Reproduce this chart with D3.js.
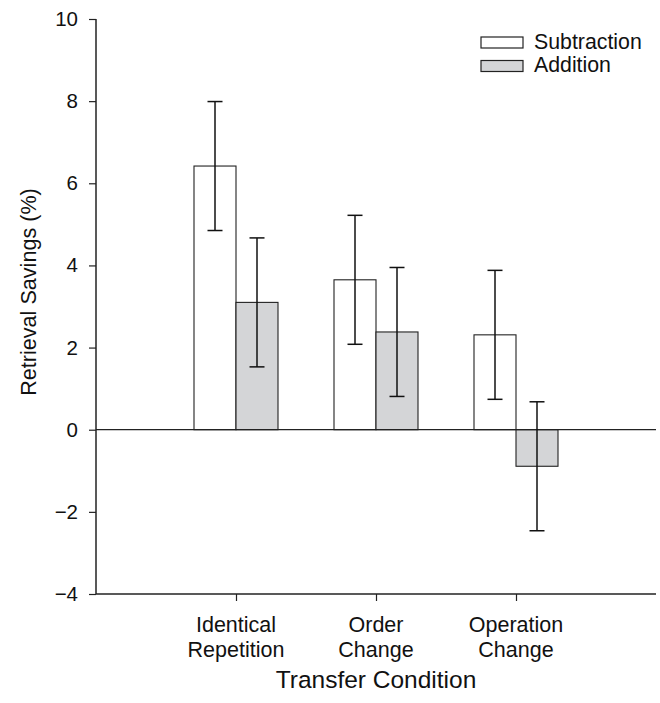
<!DOCTYPE html>
<html>
<head>
<meta charset="utf-8">
<script src="https://cdn.jsdelivr.net/npm/d3@7"></script>
<style>
  body { margin: 0; background: #fff; }
  text { font-family: "Liberation Sans", Arial, Helvetica, sans-serif; fill: #111; }
</style>
</head>
<body>
<div id="chart"></div>
<script>
// Chart data
const conditions = ["Identical Repetition", "Order Change", "Operation Change"];
const conditionLines = [["Identical", "Repetition"], ["Order", "Change"], ["Operation", "Change"]];
const seriesNames = ["Subtraction", "Addition"];
const subtractionMeans = [6.42, 3.65, 2.31];
const subtractionErrors = [1.57, 1.57, 1.57];
const additionMeans = [3.10, 2.38, -0.89];
const additionErrors = [1.57, 1.57, 1.57];
const yTicks = [-4, -2, 0, 2, 4, 6, 8, 10];

const colors = { Subtraction: "#ffffff", Addition: "#d4d5d7" };

function init() {
    const width = 660;
    const height = 703;
    const margin = { left: 96, right: 1, top: 19, bottom: 109 };

    const svg = d3.select("#chart").append("svg")
                  .attr("width", width)
                  .attr("height", height);

    // x runs from 0 to 4, conditions sit at 1, 2, 3
    const x = d3.scaleLinear()
                .domain([0, 4])
                .range([margin.left, width - margin.right - 3]);

    const y = d3.scaleLinear()
                .domain([-4, 10])
                .range([height - margin.bottom, margin.top]);

    const barWidth = x(0.3) - x(0);

    // Build rows from the arrays
    const rows = [];
    conditions.forEach((c, i) => {
        rows.push({ cond: i, series: "Subtraction", value: subtractionMeans[i], err: subtractionErrors[i], offset: -1 });
        rows.push({ cond: i, series: "Addition", value: additionMeans[i], err: additionErrors[i], offset: 0 });
    });

    // Bars
    svg.selectAll("rect.bar")
       .data(rows)
       .enter()
       .append("rect")
       .attr("class", "bar")
       .attr("x", d => x(d.cond + 1) + d.offset * barWidth)
       .attr("y", d => y(Math.max(0, d.value)))
       .attr("width", barWidth)
       .attr("height", d => Math.abs(y(d.value) - y(0)))
       .attr("fill", d => colors[d.series])
       .attr("stroke", "#222")
       .attr("stroke-width", 1.1);

    // Zero line
    svg.append("line")
       .attr("x1", x(0)).attr("x2", x(4))
       .attr("y1", y(0)).attr("y2", y(0))
       .attr("stroke", "#222")
       .attr("stroke-width", 1.2);

    // Error bars
    const capHalf = 7.5;
    const eb = svg.selectAll("g.err")
                  .data(rows)
                  .enter()
                  .append("g")
                  .attr("class", "err")
                  .attr("stroke", "#111")
                  .attr("stroke-width", 1.5);
    const cx = d => x(d.cond + 1) + (d.offset + 0.5) * barWidth;
    eb.append("line")
      .attr("x1", cx).attr("x2", cx)
      .attr("y1", d => y(d.value + d.err))
      .attr("y2", d => y(d.value - d.err));
    eb.append("line")
      .attr("x1", d => cx(d) - capHalf).attr("x2", d => cx(d) + capHalf)
      .attr("y1", d => y(d.value + d.err)).attr("y2", d => y(d.value + d.err));
    eb.append("line")
      .attr("x1", d => cx(d) - capHalf).attr("x2", d => cx(d) + capHalf)
      .attr("y1", d => y(d.value - d.err)).attr("y2", d => y(d.value - d.err));

    // Y axis
    const yAxis = svg.append("g")
                     .attr("transform", `translate(${margin.left},0)`)
                     .call(d3.axisLeft(y)
                             .tickValues(yTicks)
                             .tickSize(7)
                             .tickPadding(11)
                             .tickFormat(d => d < 0 ? "\u2212" + Math.abs(d) : d));
    yAxis.select(".domain").attr("d", `M0,${y(10)}V${y(-4)}`).attr("stroke", "#222").attr("stroke-width", 1.5);
    yAxis.selectAll(".tick line").attr("stroke", "#222").attr("stroke-width", 1.2);
    yAxis.selectAll(".tick text").attr("font-size", 20.5).style("fill", "#111");

    // X axis
    const xAxis = svg.append("g")
                     .attr("transform", `translate(0,${y(-4)})`)
                     .call(d3.axisBottom(x)
                             .tickValues([1, 2, 3])
                             .tickSize(7)
                             .tickFormat(""));
    xAxis.select(".domain").attr("d", `M${x(0)},0H${x(4)}`).attr("stroke", "#222").attr("stroke-width", 1.5);
    xAxis.selectAll(".tick line").attr("stroke", "#222").attr("stroke-width", 1.2);

    // Category labels on two lines
    const labels = svg.append("g")
                      .selectAll("text")
                      .data(conditionLines)
                      .enter()
                      .append("text")
                      .attr("text-anchor", "middle")
                      .attr("font-size", 21.5);
    labels.each(function(lines, i) {
        d3.select(this).selectAll("tspan")
          .data(lines)
          .enter()
          .append("tspan")
          .attr("x", x(i + 1))
          .attr("y", (d, j) => 632 + j * 25)
          .text(d => d);
    });

    // Axis titles
    svg.append("text")
       .attr("x", x(2))
       .attr("y", 688)
       .attr("text-anchor", "middle")
       .attr("font-size", 24.5)
       .text("Transfer Condition");

    svg.append("text")
       .attr("transform", `translate(36,292) rotate(-90)`)
       .attr("text-anchor", "middle")
       .attr("font-size", 21.6)
       .text("Retrieval Savings (%)");

    // Legend
    const legend = svg.append("g")
                      .selectAll("g")
                      .data(seriesNames)
                      .enter()
                      .append("g")
                      .attr("transform", (d, i) => `translate(481,${37 + i * 23.5})`);
    legend.append("rect")
          .attr("width", 42)
          .attr("height", 11)
          .attr("fill", d => colors[d])
          .attr("stroke", "#222")
          .attr("stroke-width", 1.2);
    legend.append("text")
          .attr("x", 53)
          .attr("y", 11.5)
          .attr("font-size", 21.3)
          .text(d => d);
}

window.onload = init;
</script>
</body>
</html>
